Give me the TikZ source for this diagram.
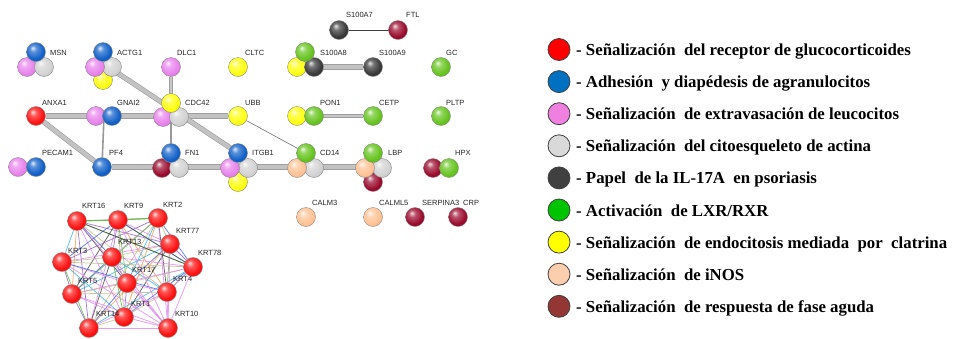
\documentclass[tikz,border=0pt]{standalone}
\usepackage{fontspec}
\setmainfont{Liberation Serif}
\newfontfamily\genefont{Liberation Sans}

% pathway colours of the network balls
\definecolor{nRed}{HTML}{FF1010}
\definecolor{nBlue}{HTML}{1060C8}
\definecolor{nPink}{HTML}{E882EC}
\definecolor{nGrey}{HTML}{D2D2D2}
\definecolor{nDark}{HTML}{383838}
\definecolor{nGreen}{HTML}{66C41E}
\definecolor{nYellow}{HTML}{FFFF10}
\definecolor{nPeach}{HTML}{FFC294}
\definecolor{nMaroon}{HTML}{9A0A2C}
% flat colours of the legend swatches
\definecolor{lRed}{HTML}{FF0000}
\definecolor{lBlue}{HTML}{0070C0}
\definecolor{lPink}{HTML}{F080E0}
\definecolor{lGrey}{HTML}{D9D9D9}
\definecolor{lDark}{HTML}{404040}
\definecolor{lGreen}{HTML}{00C400}
\definecolor{lYellow}{HTML}{FFFF00}
\definecolor{lPeach}{HTML}{FBCFAE}
\definecolor{lMaroon}{HTML}{943634}
% interaction-evidence colours in the keratin cluster
\definecolor{eOrange}{HTML}{F2A45A}
\definecolor{eCyan}{HTML}{3CB6E6}
\definecolor{eViolet}{HTML}{E08CF0}
\definecolor{eDark}{HTML}{4A4A4A}
\definecolor{eBlue}{HTML}{4C6CE0}
\definecolor{eOlive}{HTML}{C6BE8C}
\definecolor{eGreen}{HTML}{5CC03C}
\definecolor{ePurple}{HTML}{9868CC}

% glossy sphere shading, tinted by the colour glosscol
\colorlet{glosscol}{red}
\pgfdeclareradialshading[glosscol]{gloss}{\pgfpoint{-9bp}{11bp}}{%
  color(0bp)=(glosscol!12!white);
  color(9bp)=(glosscol!70!white);
  color(24bp)=(glosscol);
  color(40bp)=(glosscol!85!black);
  color(50bp)=(glosscol!70!black)}

\pgfdeclarelayer{paper}
\pgfdeclarelayer{links}
\pgfsetlayers{paper,links,main}

\tikzset{
  ball/.style={circle, inner sep=0pt, minimum size=19pt,
    /utils/exec={\colorlet{glosscol}{#1}}, shading=gloss, shade,
    draw=black!45, line width=0.4pt},
  gene/.style={anchor=west, inner sep=0pt, font=\genefont\fontsize{7.5}{8}\selectfont, text=black!85},
  link/.style={draw=black!38, line width=0.6pt, double=black!24, double distance=4pt},
  midlink/.style={draw=black!38, line width=0.5pt, double=black!22, double distance=2.2pt},
  thinlink/.style={draw=black!40, line width=1.6pt},
  hairlink/.style={draw=black!50, line width=0.7pt},
  ppi/.style={line width=0.75pt, opacity=0.85},
  ppi0/.style={ppi, draw=eOrange},
  ppi1/.style={ppi, draw=eCyan},
  ppi2/.style={ppi, draw=eViolet},
  ppi3/.style={ppi, draw=eDark},
  ppi4/.style={ppi, draw=eBlue},
  ppi5/.style={ppi, draw=eOlive},
  ppi6/.style={ppi, draw=eGreen},
  ppi7/.style={ppi, draw=ePurple},
  swatch/.style={circle, inner sep=0pt, minimum size=22pt, fill=#1, draw=black!75, line width=0.8pt},
  legtext/.style={anchor=base west, inner sep=0pt, font=\bfseries\fontsize{16.8}{20}\selectfont},
}

\begin{document}
\begin{tikzpicture}[x=1pt, y=-1pt]
\begin{pgfonlayer}{paper}
  \fill[white] (0,0) rectangle (953,338);
\end{pgfonlayer}
\useasboundingbox (0,0) rectangle (953,338);

% ---------- pathway network ----------
% S100A7 / FTL
\node[ball=nDark] (s100a7) at (339,30) {};
\node[ball=nMaroon] (ftl) at (398,30) {};
\node[gene] (t-s100a7) at (346,15) {S100A7};
\node[gene] (t-ftl) at (406,15) {FTL};

% first row
\node[ball=nPink] (msn-p) at (27,67) {};
\node[ball=nGrey] (msn-g) at (44,67) {};
\node[ball=nBlue] (msn-b) at (36,52) {};
\node[gene] (t-msn) at (50,53) {MSN};

\node[ball=nYellow] (actg1-y) at (103,80) {};
\node[ball=nGrey] (actg1-g) at (112,67) {};
\node[ball=nPink] (actg1-p) at (95,67) {};
\node[ball=nBlue] (actg1-b) at (103,52) {};
\coordinate (actg1) at (110,68);
\node[gene] (t-actg1) at (117,53) {ACTG1};

\node[ball=nPink] (dlc1) at (171,67) {};
\node[gene] (t-dlc1) at (177,53) {DLC1};

\node[ball=nYellow] (cltc) at (238,67) {};
\node[gene] (t-cltc) at (245,53) {CLTC};

\node[ball=nYellow] (s100a8-y) at (297,67) {};
\node[ball=nDark] (s100a8-d) at (314,67) {};
\node[ball=nGreen] (s100a8-gr) at (305,52) {};
\coordinate (s100a8) at (312,67);
\node[gene] (t-s100a8) at (320,53) {S100A8};

\node[ball=nDark] (s100a9) at (373,67) {};
\node[gene] (t-s100a9) at (379,53) {S100A9};

\node[ball=nGreen] (gc) at (441,67) {};
\node[gene] (t-gc) at (446,53) {GC};

% second row
\node[ball=nRed] (anxa1) at (36,116) {};
\node[gene] (t-anxa1) at (42,103) {ANXA1};

\node[ball=nPink] (gnai2-p) at (96,116) {};
\node[ball=nBlue] (gnai2-b) at (112,116) {};
\coordinate (gnai2) at (104,116);
\node[gene] (t-gnai2) at (117,103) {GNAI2};

\node[ball=nPink] (cdc42-p) at (163,117) {};
\node[ball=nGrey] (cdc42-g) at (179,117) {};
\node[ball=nYellow] (cdc42-y) at (171,103) {};
\coordinate (cdc42) at (171,116);
\node[gene] (t-cdc42) at (185,103) {CDC42};

\node[ball=nYellow] (ubb) at (238,116) {};
\node[gene] (t-ubb) at (245,103) {UBB};

\node[ball=nYellow] (pon1-y) at (297,116) {};
\node[ball=nGreen] (pon1-gr) at (314,116) {};
\coordinate (pon1) at (310,116);
\node[gene] (t-pon1) at (320,103) {PON1};

\node[ball=nGreen] (cetp) at (373,116) {};
\node[gene] (t-cetp) at (379,103) {CETP};

\node[ball=nGreen] (pltp) at (441,116) {};
\node[gene] (t-pltp) at (446,103) {PLTP};

% third row
\node[ball=nPink] (pecam1-p) at (18,167) {};
\node[ball=nBlue] (pecam1-b) at (36,167) {};
\node[gene] (t-pecam1) at (42,153) {PECAM1};

\node[ball=nBlue] (pf4) at (102,167) {};
\node[gene] (t-pf4) at (109,153) {PF4};

\node[ball=nMaroon] (fn1-m) at (162,168) {};
\node[ball=nGrey] (fn1-g) at (179,168) {};
\node[ball=nBlue] (fn1-b) at (171,153) {};
\coordinate (fn1) at (171,167);
\node[gene] (t-fn1) at (185,153) {FN1};

\node[ball=nYellow] (itgb1-y) at (238,182) {};
\node[ball=nGrey] (itgb1-g) at (248,168) {};
\node[ball=nPink] (itgb1-p) at (230,168) {};
\node[ball=nBlue] (itgb1-b) at (238,153) {};
\coordinate (itgb1) at (239,167);
\node[gene] (t-itgb1) at (252,153) {ITGB1};

\node[ball=nGrey] (cd14-g) at (314,168) {};
\node[ball=nPeach] (cd14-pe) at (297,168) {};
\node[ball=nGreen] (cd14-gr) at (306,153) {};
\coordinate (cd14) at (306,167);
\node[gene] (t-cd14) at (320,153) {CD14};

\node[ball=nMaroon] (lbp-m) at (373,182) {};
\node[ball=nGrey] (lbp-g) at (382,168) {};
\node[ball=nPeach] (lbp-pe) at (365,168) {};
\node[ball=nGreen] (lbp-gr) at (373,153) {};
\coordinate (lbp) at (373,167);
\node[gene] (t-lbp) at (388,153) {LBP};

\node[ball=nMaroon] (hpx-m) at (433,168) {};
\node[ball=nGreen] (hpx-gr) at (449,168) {};
\node[gene] (t-hpx) at (455,153) {HPX};

% fourth row
\node[ball=nPeach] (calm3) at (306,217) {};
\node[gene] (t-calm3) at (312,203) {CALM3};
\node[ball=nPeach] (calml5) at (373,217) {};
\node[gene] (t-calml5) at (379,203) {CALML5};
\node[ball=nMaroon] (serpina3) at (415,217) {};
\node[gene] (t-serpina3) at (422,203) {SERPINA3};
\node[ball=nMaroon] (crp) at (458,217) {};
\node[gene] (t-crp) at (463,203) {CRP};

\begin{pgfonlayer}{links}
  \draw[link] (anxa1) -- (gnai2);
  \draw[link] (gnai2) -- (cdc42);
  \draw[link] (cdc42) -- (ubb);
  \draw[link] (actg1) -- (itgb1-b);
  \draw[midlink] (dlc1) -- (cdc42);
  \draw[link] (anxa1) -- (pf4);
  \draw[thinlink] (gnai2) -- (pf4);
  \draw[thinlink] (cdc42) -- (fn1);
  \draw[link] (pf4) -- (fn1);
  \draw[link] (fn1) -- (itgb1);
  \draw[link] (itgb1) -- (cd14);
  \draw[link] (cd14) -- (lbp);
  \draw[hairlink] (ubb) -- (cd14-gr);
  \draw[link] (s100a8) -- (s100a9);
  \draw[midlink] (pon1) -- (cetp);
  \draw[hairlink, draw=black!75] (s100a7) -- (ftl);
\end{pgfonlayer}

% ---------- keratin cluster ----------
\node[ball=nRed] (krt16) at (77,221) {};
\node[ball=nRed] (krt9) at (118,220) {};
\node[ball=nRed] (krt2) at (158,218) {};
\node[ball=nRed] (krt77) at (170,244) {};
\node[ball=nRed] (krt13) at (112,257) {};
\node[ball=nRed] (krt3) at (62,262) {};
\node[ball=nRed] (krt78) at (193,267) {};
\node[ball=nRed] (krt17) at (127,283) {};
\node[ball=nRed] (krt5) at (72,294) {};
\node[ball=nRed] (krt4) at (167,292) {};
\node[ball=nRed] (krt1) at (124,317) {};
\node[ball=nRed] (krt14) at (89,328) {};
\node[ball=nRed] (krt10) at (168,328) {};
\node[gene] (t-krt16) at (82,206) {KRT16};
\node[gene] (t-krt9) at (124,206) {KRT9};
\node[gene] (t-krt2) at (163,205) {KRT2};
\node[gene] (t-krt77) at (176,231) {KRT77};
\node[gene] (t-krt13) at (118,242) {KRT13};
\node[gene] (t-krt3) at (68,251) {KRT3};
\node[gene] (t-krt78) at (198,253) {KRT78};
\node[gene] (t-krt17) at (132,270) {KRT17};
\node[gene] (t-krt5) at (78,281) {KRT5};
\node[gene] (t-krt4) at (173,279) {KRT4};
\node[gene] (t-krt1) at (131,304) {KRT1};
\node[gene] (t-krt14) at (96,314) {KRT14};
\node[gene] (t-krt10) at (175,314) {KRT10};

\begin{pgfonlayer}{links}
  \foreach \ka [count=\ki] in {krt16,krt9,krt2,krt77,krt13,krt3,krt78,krt17,krt5,krt4,krt1,krt14}
    \foreach \kb [count=\kj] in {krt16,krt9,krt2,krt77,krt13,krt3,krt78,krt17,krt5,krt4,krt1,krt14}
    {
      \ifnum\kj>\ki
        \pgfmathtruncatemacro\evidx{mod(3*\ki+5*\kj,8)}
        \draw[ppi\evidx] (\ka) -- (\kb);
      \fi
    }
  \foreach \kb in {krt16,krt9,krt2,krt77,krt13,krt3,krt78,krt17,krt5,krt4,krt1,krt14}
    \draw[ppi2] (krt10) -- (\kb);
  \draw[ppi6, line width=1.2pt] (krt16) -- (krt9);
  \draw[ppi6, line width=1.2pt] (krt9) -- (krt2);
  \draw[ppi3] (krt16) -- (krt78);
  \draw[ppi3] (krt9) -- (krt78);
\end{pgfonlayer}

% ---------- legend ----------
\node[swatch=lRed]    (k1) at (559,49.5) {};
\node[swatch=lBlue]   (k2) at (559,81.6) {};
\node[swatch=lPink]   (k3) at (559,113.7) {};
\node[swatch=lGrey]   (k4) at (559,145.8) {};
\node[swatch=lDark]   (k5) at (559,177.9) {};
\node[swatch=lGreen]  (k6) at (559,210) {};
\node[swatch=lYellow] (k7) at (559,242.1) {};
\node[swatch=lPeach]  (k8) at (559,274.2) {};
\node[swatch=lMaroon] (k9) at (559,306.3) {};
\node[legtext] (d1) at (576,55.5) {- Señalización\ \ del receptor de glucocorticoides};
\node[legtext] (d2) at (576,87.6) {- Adhesión\ \ y diapédesis de agranulocitos};
\node[legtext] (d3) at (576,119.7) {- Señalización\ \ de extravasación de leucocitos};
\node[legtext] (d4) at (576,151.8) {- Señalización\ \ del citoesqueleto de actina};
\node[legtext] (d5) at (576,183.9) {- Papel\ \ de la IL-17A\ \ en psoriasis};
\node[legtext] (d6) at (576,216) {- Activación\ \ de LXR/RXR};
\node[legtext] (d7) at (576,248.1) {- Señalización\ \ de endocitosis mediada\ \ por\ \ clatrina};
\node[legtext] (d8) at (576,280.2) {- Señalización\ \ de iNOS};
\node[legtext] (d9) at (576,312.3) {- Señalización\ \ de respuesta de fase aguda};
\end{tikzpicture}
\end{document}
